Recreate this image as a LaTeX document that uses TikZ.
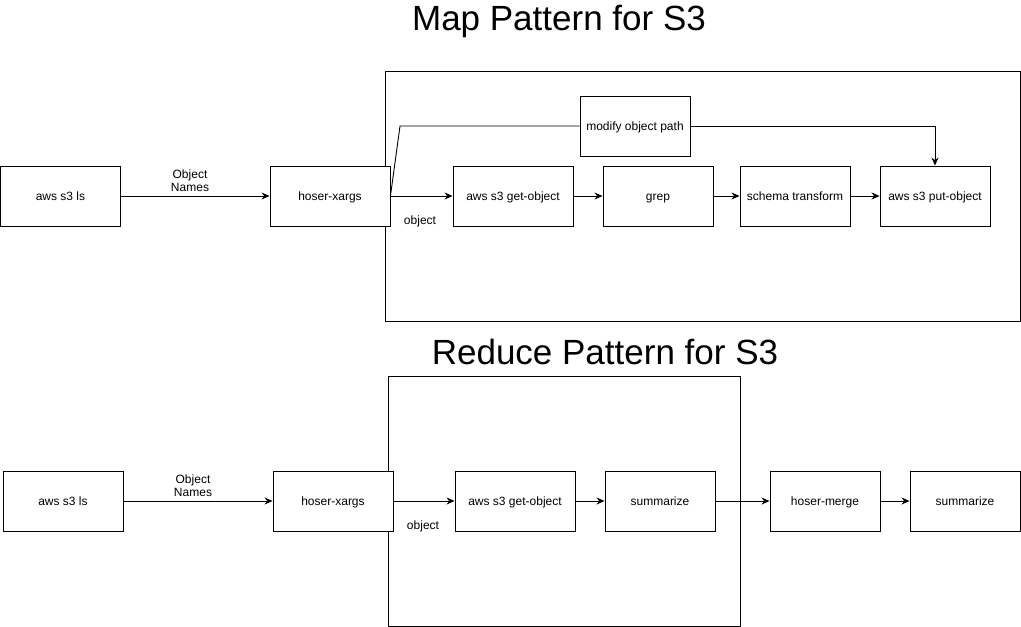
\documentclass[tikz,border=0pt]{standalone}
\usepackage{fontspec}
\setmainfont{Liberation Sans}
\usetikzlibrary{arrows.meta}
\tikzset{
  box/.style={draw=black, fill=white, line width=0.9pt, minimum height=60pt, inner sep=0pt,
    text height=10.4pt, text depth=1.6pt, font=\fontsize{12}{14}\selectfont},
  wbox/.style={box, minimum width=120pt},
  nbox/.style={box, minimum width=110pt},
  frame/.style={draw=black, line width=0.9pt},
  conn/.style={draw=black, line width=0.9pt, -{Stealth[length=8pt,width=7pt]}},
  lbl/.style={font=\fontsize{12}{14}\selectfont, align=center, inner sep=0pt},
  ttl/.style={font=\fontsize{35}{40}\selectfont, inner sep=0pt}
}
\begin{document}
\begin{tikzpicture}[x=1pt,y=-1pt]
\useasboundingbox (0,0) rectangle (1021,627);
% titles
\node[ttl] (t1) at (559,21) {Map Pattern for S3};
\node[ttl] (t2) at (605,352) {Reduce Pattern for S3};
% containers
\draw[frame] (385,71) rectangle (1020.3,321);
\draw[frame] (388,376) rectangle (740.5,626.3);
% top row
\node[box, minimum width=119.5pt] (ls1) at (60.5,196) {aws s3 ls};
\node[wbox] (hx1) at (330,196) {hoser-xargs};
\node[wbox] (go1) at (513,196) {aws s3 get-object};
\node[nbox] (gr) at (658,196) {grep};
\node[nbox] (st) at (795,196) {schema transform};
\node[nbox] (po) at (935,196) {aws s3 put-object};
\node[nbox] (mo) at (635,126) {modify object path};
\coordinate (bend) at (400,126);
\draw[conn] (ls1) -- (hx1);
\node[lbl] (on1) at (190,181) {Object\\[-1pt]Names};
\draw[conn] (hx1) -- (go1);
\node[lbl] (ob1) at (420,221) {object};
\draw[conn] (go1) -- (gr);
\draw[conn] (gr) -- (st);
\draw[conn] (st) -- (po);
\draw[line width=0.9pt] (hx1.east) -- (bend) -- (mo.west);
\draw[conn] (mo.east) -| (po.north);
% bottom row
\node[wbox] (ls2) at (63,501) {aws s3 ls};
\node[wbox] (hx2) at (333,501) {hoser-xargs};
\node[wbox] (go2) at (515,501) {aws s3 get-object};
\node[nbox] (su1) at (660,501) {summarize};
\node[nbox] (hm) at (825,501) {hoser-merge};
\node[nbox] (su2) at (965,501) {summarize};
\draw[conn] (ls2) -- (hx2);
\node[lbl] (on2) at (193,486) {Object\\[-1pt]Names};
\draw[conn] (hx2) -- (go2);
\node[lbl] (ob2) at (423,526) {object};
\draw[conn] (go2) -- (su1);
\draw[conn] (su1) -- (hm);
\draw[conn] (hm) -- (su2);
\end{tikzpicture}
\end{document}
